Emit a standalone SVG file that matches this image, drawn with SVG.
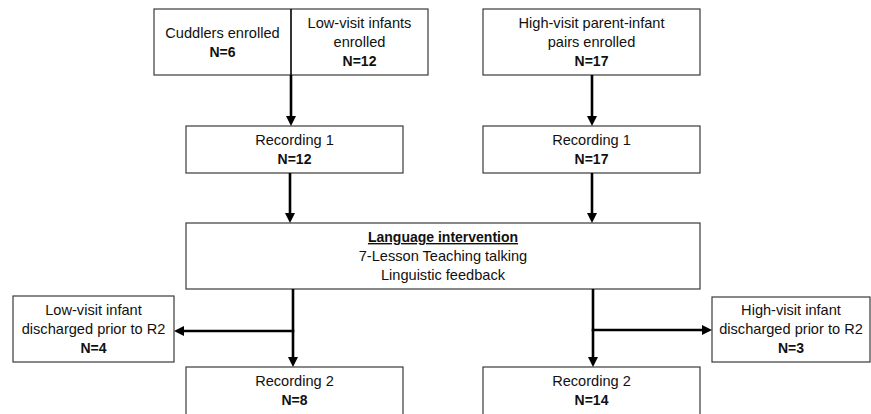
<svg xmlns="http://www.w3.org/2000/svg" width="871" height="414" viewBox="0 0 871 414">
  <defs>
    <style>
      .box { fill: #ffffff; stroke: #3a3a3a; stroke-width: 1.2; }
      .t { font-family: "Liberation Sans", Arial, sans-serif; font-size: 14.6px; fill: #111; text-anchor: middle; }
      .b { font-weight: bold; font-size: 14px; }
      .u { text-decoration: underline; }
      .conn { stroke: #000; stroke-width: 2.6; fill: none; }
    </style>
    <marker id="ah" markerUnits="userSpaceOnUse" markerWidth="10" markerHeight="10" viewBox="0 0 10 10" refX="0" refY="5" orient="auto">
      <path d="M0,0 L10,5 L0,10 z" fill="#000"/>
    </marker>
  </defs>
  <rect width="871" height="414" fill="#ffffff"/>

  <g id="enrolled-left">
    <rect class="box" x="154" y="9" width="274" height="66"/>
    <line x1="291" y1="9" x2="291" y2="75" stroke="#000" stroke-width="1.6"/>
    <text class="t" x="222.5" y="38">Cuddlers enrolled</text>
    <text class="t b" x="222.5" y="57">N=6</text>
    <text class="t" x="359.5" y="28">Low-visit infants</text>
    <text class="t" x="359.5" y="47">enrolled</text>
    <text class="t b" x="359.5" y="66">N=12</text>
  </g>

  <g id="enrolled-right">
    <rect class="box" x="483" y="9" width="217" height="66"/>
    <text class="t" x="591.5" y="28">High-visit parent-infant</text>
    <text class="t" x="591.5" y="47">pairs enrolled</text>
    <text class="t b" x="591.5" y="66">N=17</text>
  </g>

  <g id="rec1-left">
    <rect class="box" x="186" y="126" width="217" height="47"/>
    <text class="t" x="294.5" y="145">Recording 1</text>
    <text class="t b" x="294.5" y="164">N=12</text>
  </g>

  <g id="rec1-right">
    <rect class="box" x="483" y="126" width="217" height="47"/>
    <text class="t" x="591.5" y="145">Recording 1</text>
    <text class="t b" x="591.5" y="164">N=17</text>
  </g>

  <g id="intervention">
    <rect class="box" x="186" y="223" width="514" height="66"/>
    <text class="t b u" x="443" y="242">Language intervention</text>
    <text class="t" x="443" y="261">7-Lesson Teaching talking</text>
    <text class="t" x="443" y="280">Linguistic feedback</text>
  </g>

  <g id="discharged-left">
    <rect class="box" x="13" y="296" width="161" height="66"/>
    <text class="t" x="93.5" y="315">Low-visit infant</text>
    <text class="t" x="93.5" y="334">discharged prior to R2</text>
    <text class="t b" x="93.5" y="353">N=4</text>
  </g>

  <g id="discharged-right">
    <rect class="box" x="712" y="297" width="158" height="65"/>
    <text class="t" x="791" y="315">High-visit infant</text>
    <text class="t" x="791" y="334">discharged prior to R2</text>
    <text class="t b" x="791" y="353">N=3</text>
  </g>

  <g id="rec2-left">
    <rect class="box" x="186" y="367" width="217" height="60"/>
    <text class="t" x="294.5" y="386">Recording 2</text>
    <text class="t b" x="294.5" y="405">N=8</text>
  </g>

  <g id="rec2-right">
    <rect class="box" x="483" y="367" width="217" height="60"/>
    <text class="t" x="591.5" y="386">Recording 2</text>
    <text class="t b" x="591.5" y="405">N=14</text>
  </g>

  <g id="connectors">
    <line class="conn" x1="291" y1="75" x2="291" y2="116" marker-end="url(#ah)"/>
    <line class="conn" x1="592" y1="75" x2="592" y2="116" marker-end="url(#ah)"/>
    <line class="conn" x1="290" y1="173" x2="290" y2="213" marker-end="url(#ah)"/>
    <line class="conn" x1="592" y1="173" x2="592" y2="213" marker-end="url(#ah)"/>
    <line class="conn" x1="293" y1="289" x2="293" y2="357" marker-end="url(#ah)"/>
    <line class="conn" x1="294.3" y1="331" x2="184" y2="331" marker-end="url(#ah)"/>
    <line class="conn" x1="593" y1="289" x2="593" y2="357" marker-end="url(#ah)"/>
    <line class="conn" x1="591.7" y1="330" x2="702" y2="330" marker-end="url(#ah)"/>
  </g>
</svg>
